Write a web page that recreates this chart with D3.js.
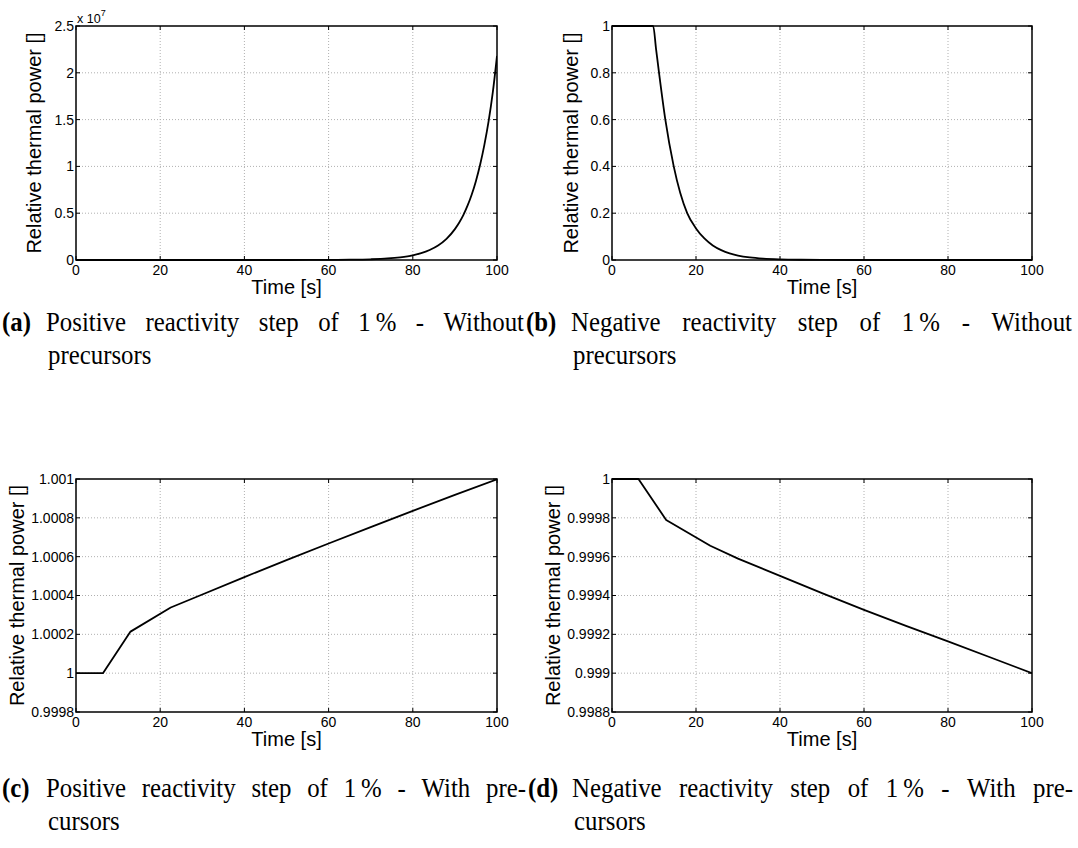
<!DOCTYPE html>
<html>
<head>
<meta charset="utf-8">
<script src="https://cdn.jsdelivr.net/npm/d3@7"></script>
<style>
  html, body { margin: 0; padding: 0; background: #fff; }
  svg { display: block; }
</style>
</head>
<body>
<svg id="chart" width="1078" height="848"></svg>
<script>
// ---------------- DATA ----------------
const xTicks = [0, 20, 40, 60, 80, 100];
const xTickLabels = ["0", "20", "40", "60", "80", "100"];

// (a) positive step, without precursors
const timeA  = [0, 10, 20, 30, 40, 50, 60, 65, 70, 74, 77, 80, 82, 84, 86, 88, 90, 91, 92, 93, 94, 95, 96, 97, 98, 99, 100];
const powerA = [1, 1, 6.5, 43, 280, 1800, 12000, 30000, 77000, 164000, 290000, 500000, 730000, 1070000, 1550000, 2260000, 3300000, 3980000, 4800000, 5800000, 7000000, 8450000, 10200000, 12300000, 14800000, 17900000, 21800000];
const yTicksA = [0, 5e6, 1e7, 1.5e7, 2e7, 2.5e7];
const yTickLabelsA = ["0", "0.5", "1", "1.5", "2", "2.5"];

// (b) negative step, without precursors
const timeB  = [0, 9.8, 10.5, 11.2, 12.7, 14.7, 17.9, 20, 22, 24, 26, 28, 30, 32.8, 36, 40, 45, 50, 60, 70, 100];
const powerB = [1, 1, 0.9, 0.8, 0.6, 0.4, 0.2, 0.135, 0.092, 0.062, 0.042, 0.028, 0.019, 0.011, 0.0059, 0.0027, 0.001, 0.0004, 0.00006, 0.00001, 0];
const yTicksB = [0, 0.2, 0.4, 0.6, 0.8, 1];
const yTickLabelsB = ["0", "0.2", "0.4", "0.6", "0.8", "1"];

// (c) positive step, with precursors
const timeC  = [0, 6.4, 12.95, 22.5, 30, 40, 50, 60, 70, 80, 90, 100];
const powerC = [1, 1, 1.000214, 1.000338, 1.000405, 1.000495, 1.000582, 1.000668, 1.000752, 1.000836, 1.000918, 1.000998];
const yTicksC = [0.9998, 1, 1.0002, 1.0004, 1.0006, 1.0008, 1.001];
const yTickLabelsC = ["0.9998", "1", "1.0002", "1.0004", "1.0006", "1.0008", "1.001"];

// (d) negative step, with precursors
const timeD  = [0, 6.3, 12.9, 23.4, 30, 40, 50, 60, 70, 80, 90, 100];
const powerD = [1, 1, 0.999789, 0.999656, 0.99959, 0.999501, 0.999412, 0.999326, 0.999244, 0.999164, 0.999082, 0.999];
const yTicksD = [0.9988, 0.999, 0.9992, 0.9994, 0.9996, 0.9998, 1];
const yTickLabelsD = ["0.9988", "0.999", "0.9992", "0.9994", "0.9996", "0.9998", "1"];

const xLabel = "Time [s]";
const yLabel = "Relative thermal power []";

const captionLabels = ["(a)", "(b)", "(c)", "(d)"];
const captionLine1 = [
  "Positive reactivity step of 1\u2009% - Without",
  "Negative reactivity step of 1\u2009% - Without",
  "Positive reactivity step of 1\u2009% - With pre-",
  "Negative reactivity step of 1\u2009% - With pre-"
];
const captionLine2 = ["precursors", "precursors", "cursors", "cursors"];

// ---------------- LAYOUT ----------------
const svg = d3.select("#chart");
const SANS = "'Liberation Sans', Arial, Helvetica, sans-serif";
const SERIF = "'Liberation Serif', 'Times New Roman', serif";

const panels = [
  { t: timeA, p: powerA, yDomain: [0, 2.5e7], yTicks: yTicksA, yLabels: yTickLabelsA,
    box: { x0: 76, x1: 497, y0: 26, y1: 260 }, ylabX: 41, exponent: true, smooth: true },
  { t: timeB, p: powerB, yDomain: [0, 1], yTicks: yTicksB, yLabels: yTickLabelsB,
    box: { x0: 612, x1: 1032, y0: 26, y1: 260 }, ylabX: 578, smooth: true },
  { t: timeC, p: powerC, yDomain: [0.9998, 1.001], yTicks: yTicksC, yLabels: yTickLabelsC,
    box: { x0: 76, x1: 497, y0: 479, y1: 712 }, ylabX: 24, smooth: false },
  { t: timeD, p: powerD, yDomain: [0.9988, 1], yTicks: yTicksD, yLabels: yTickLabelsD,
    box: { x0: 612, x1: 1032, y0: 479, y1: 712 }, ylabX: 560, smooth: false }
];

panels.forEach((P, i) => {
  const b = P.box;
  const x = d3.scaleLinear().domain([0, 100]).range([b.x0, b.x1]);
  const y = d3.scaleLinear().domain(P.yDomain).range([b.y1, b.y0]);
  const g = svg.append("g");
  const tickLen = 4;

  // grid
  g.append("g").selectAll("line.gx").data(xTicks.slice(1, -1)).join("line")
    .attr("x1", d => x(d)).attr("x2", d => x(d))
    .attr("y1", b.y0).attr("y2", b.y1)
    .attr("stroke", "#b0b0b0").attr("stroke-width", 1).attr("stroke-dasharray", "1,2");
  g.append("g").selectAll("line.gy").data(P.yTicks.slice(1, -1)).join("line")
    .attr("x1", b.x0).attr("x2", b.x1)
    .attr("y1", d => y(d)).attr("y2", d => y(d))
    .attr("stroke", "#b0b0b0").attr("stroke-width", 1).attr("stroke-dasharray", "1,2");

  // ticks (inward, all four sides)
  const tk = g.append("g").attr("stroke", "#000").attr("stroke-width", 1);
  xTicks.forEach(d => {
    tk.append("line").attr("x1", x(d)).attr("x2", x(d)).attr("y1", b.y1).attr("y2", b.y1 - tickLen);
    tk.append("line").attr("x1", x(d)).attr("x2", x(d)).attr("y1", b.y0).attr("y2", b.y0 + tickLen);
  });
  P.yTicks.forEach(d => {
    tk.append("line").attr("x1", b.x0).attr("x2", b.x0 + tickLen).attr("y1", y(d)).attr("y2", y(d));
    tk.append("line").attr("x1", b.x1).attr("x2", b.x1 - tickLen).attr("y1", y(d)).attr("y2", y(d));
  });

  // clip + curve
  const clipId = "clip" + i;
  svg.append("clipPath").attr("id", clipId).append("rect")
    .attr("x", b.x0).attr("y", b.y0 - 1).attr("width", b.x1 - b.x0).attr("height", b.y1 - b.y0 + 2);
  const line = d3.line().x(d => x(d[0])).y(d => y(d[1]))
    .curve(P.smooth ? d3.curveMonotoneX : d3.curveLinear);
  const pts = P.t.map((t, k) => [t, P.p[k]]);
  g.append("path").datum(pts).attr("d", line)
    .attr("fill", "none").attr("stroke", "#000").attr("stroke-width", 1.8)
    .attr("stroke-linejoin", "round").attr("clip-path", `url(#${clipId})`);

  // box
  g.append("rect").attr("x", b.x0).attr("y", b.y0)
    .attr("width", b.x1 - b.x0).attr("height", b.y1 - b.y0)
    .attr("fill", "none").attr("stroke", "#000").attr("stroke-width", 1.5);

  // x tick labels
  g.append("g").selectAll("text").data(xTicks).join("text")
    .attr("x", d => x(d)).attr("y", b.y1 + 15)
    .attr("text-anchor", "middle").attr("font-family", SANS).attr("font-size", 14)
    .attr("fill", "#000").text((d, k) => xTickLabels[k]);
  // y tick labels
  g.append("g").selectAll("text").data(P.yTicks).join("text")
    .attr("x", b.x0 - 2).attr("y", d => y(d)).attr("dy", "0.35em")
    .attr("text-anchor", "end").attr("font-family", SANS).attr("font-size", 14)
    .attr("fill", "#000").text((d, k) => P.yLabels[k]);

  // axis labels
  g.append("text").attr("x", (b.x0 + b.x1) / 2).attr("y", b.y1 + 34)
    .attr("text-anchor", "middle").attr("font-family", SANS).attr("font-size", 20)
    .attr("fill", "#000").text(xLabel);
  g.append("text")
    .attr("transform", `translate(${P.ylabX},${(b.y0 + b.y1) / 2}) rotate(-90)`)
    .attr("text-anchor", "middle").attr("font-family", SANS).attr("font-size", 20)
    .attr("fill", "#000").text(yLabel);

  if (P.exponent) {
    const e = g.append("text").attr("x", b.x0 + 1).attr("y", b.y0 - 3)
      .attr("font-family", SANS).attr("font-size", 12.5).attr("fill", "#000");
    e.append("tspan").text("x 10");
    e.append("tspan").attr("font-size", 9).attr("dy", -7).text("7");
  }
});

// ---------------- CAPTIONS ----------------
const capPos = [
  { lx: 2,   tx: 46,  tr: 524,  y1: 331, y2: 364 },
  { lx: 526, tx: 571, tr: 1072, y1: 331, y2: 364 },
  { lx: 2,   tx: 46,  tr: 526,  y1: 797, y2: 830 },
  { lx: 528, tx: 572, tr: 1073, y1: 797, y2: 830 }
];
const capSize = 27;
const sx = 0.92;
function capText(g, str, x, y, bold) {
  const t = g.append("text").attr("x", 0).attr("y", 0)
    .attr("transform", `translate(${x},${y}) scale(${sx},1)`).text(str);
  if (bold) t.attr("font-weight", "bold");
  return t;
}
capPos.forEach((c, i) => {
  const g = svg.append("g").attr("font-family", SERIF).attr("font-size", capSize).attr("fill", "#000");
  capText(g, captionLabels[i], c.lx, c.y1, true);
  const words = captionLine1[i].split(" ");
  const widths = words.map(w => {
    const n = capText(g, w, 0, c.y1, false);
    const wd = n.node().getComputedTextLength() * sx;
    n.remove();
    return wd;
  });
  const total = d3.sum(widths);
  const gap = (c.tr - c.tx - total) / (words.length - 1);
  let cx = c.tx;
  words.forEach((w, k) => { capText(g, w, cx, c.y1, false); cx += widths[k] + gap; });
  capText(g, captionLine2[i], c.tx + 2, c.y2, false);
});
</script>
</body>
</html>
